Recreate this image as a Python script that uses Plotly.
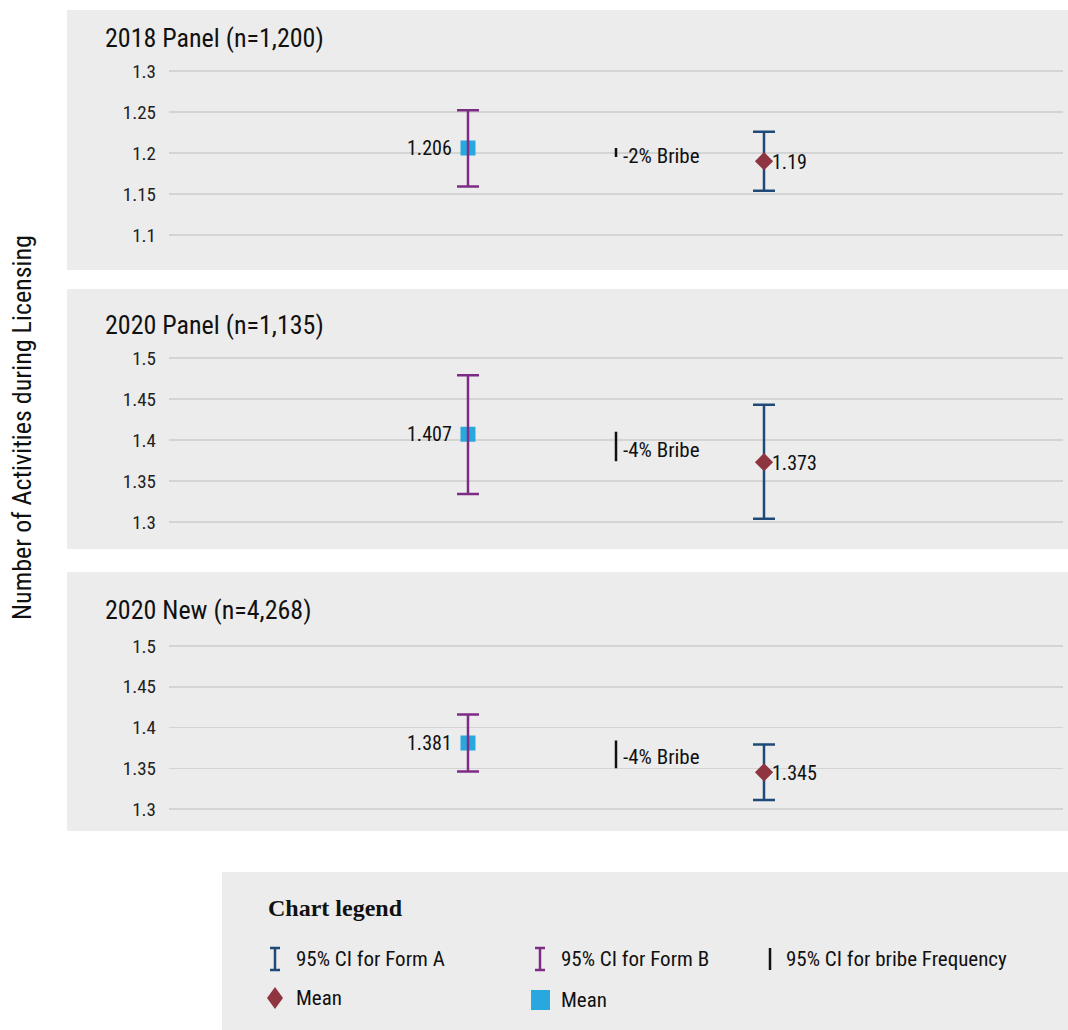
import plotly.graph_objects as go

# ---------------- data ----------------
panels = ["2018 Panel (n=1,200)", "2020 Panel (n=1,135)", "2020 New (n=4,268)"]
categories = ["Form B", "Bribe", "Form A"]
formb_mean = [1.206, 1.407, 1.381]
formb_hi = [1.252, 1.479, 1.416]
formb_lo = [1.159, 1.334, 1.346]
forma_mean = [1.19, 1.373, 1.345]
forma_hi = [1.226, 1.443, 1.379]
forma_lo = [1.154, 1.304, 1.311]
bribe_hi = [1.206, 1.410, 1.384]
bribe_lo = [1.195, 1.374, 1.350]
bribe_labels = ["-2% Bribe", "-4% Bribe", "-4% Bribe"]
y_ticks = [[1.1, 1.15, 1.2, 1.25, 1.3],
           [1.3, 1.35, 1.4, 1.45, 1.5],
           [1.3, 1.35, 1.4, 1.45, 1.5]]
y_tick_text = [["1.1", "1.15", "1.2", "1.25", "1.3"],
               ["1.3", "1.35", "1.4", "1.45", "1.5"],
               ["1.3", "1.35", "1.4", "1.45", "1.5"]]
y_title = "Number of Activities during Licensing"
legend_title = "Chart legend"
legend_items = ["95% CI for Form A", "95% CI for Form B", "95% CI for bribe Frequency", "Mean", "Mean"]

# ---------------- style ----------------
W, H = 1068, 1030
FONT = "Liberation Sans Narrow, Roboto Condensed, Roboto, sans-serif"
NAVY = "#1f4a78"
PURPLE = "#7d2c84"
BLUE = "#29a8e0"
RED = "#8e3540"
PANEL_BG = "#ececec"
GRID = "#d4d4d4"
TXT = "#111"


def px(x):
    return x / W


def py(y):
    return 1 - y / H


# panel geometry (pixels)
panel_rects = [(10, 270), (289, 549), (572, 831)]
plot_tops = [54.6, 341.6, 629.7]
plot_bots = [251.4, 538.4, 825.3]
y_ranges = [[1.08, 1.32], [1.28, 1.52], [1.28, 1.52]]
title_y = [38, 325, 610]

fig = go.Figure()
shapes = []
annotations = []

for i in range(3):
    sfx = "" if i == 0 else str(i + 1)
    xa, ya = "x" + sfx, "y" + sfx
    # Form B mean square (under its error bar)
    fig.add_trace(go.Scatter(
        x=[categories[0]], y=[formb_mean[i]], xaxis=xa, yaxis=ya, mode="markers",
        marker=dict(symbol="square", size=15, color=BLUE), hoverinfo="skip", showlegend=False))
    annotations.append(dict(x=0, y=formb_mean[i], xref=xa, yref=ya,
                            text=f"{formb_mean[i]:g}", showarrow=False,
                            xanchor="right", yanchor="middle", xshift=-14,
                            font=dict(family=FONT, size=20, color=TXT)))
    # Form B CI
    fig.add_trace(go.Scatter(
        x=[categories[0]], y=[formb_mean[i]], xaxis=xa, yaxis=ya, mode="markers",
        marker=dict(size=1, color="rgba(0,0,0,0)"),
        error_y=dict(type="data", symmetric=False,
                     array=[formb_hi[i] - formb_mean[i]],
                     arrayminus=[formb_mean[i] - formb_lo[i]],
                     color=PURPLE, thickness=2.5, width=11),
        hoverinfo="skip", showlegend=False))
    # Form A CI
    fig.add_trace(go.Scatter(
        x=[categories[2]], y=[forma_mean[i]], xaxis=xa, yaxis=ya, mode="markers",
        marker=dict(size=1, color="rgba(0,0,0,0)"),
        error_y=dict(type="data", symmetric=False,
                     array=[forma_hi[i] - forma_mean[i]],
                     arrayminus=[forma_mean[i] - forma_lo[i]],
                     color=NAVY, thickness=2.5, width=11),
        hoverinfo="skip", showlegend=False))
    # Form A mean diamond
    fig.add_trace(go.Scatter(
        x=[categories[2]], y=[forma_mean[i]], xaxis=xa, yaxis=ya, mode="markers",
        marker=dict(symbol="diamond", size=14, color=RED), hoverinfo="skip", showlegend=False))
    annotations.append(dict(x=2, y=forma_mean[i], xref=xa, yref=ya,
                            text=f"{forma_mean[i]:g}", showarrow=False,
                            xanchor="left", yanchor="middle", xshift=6, yshift=-1,
                            font=dict(family=FONT, size=20, color=TXT)))
    # Bribe CI
    mid = (bribe_hi[i] + bribe_lo[i]) / 2
    fig.add_trace(go.Scatter(
        x=[categories[1]], y=[mid], xaxis=xa, yaxis=ya, mode="markers",
        marker=dict(size=1, color="rgba(0,0,0,0)"),
        error_y=dict(type="data", symmetric=False,
                     array=[bribe_hi[i] - mid], arrayminus=[mid - bribe_lo[i]],
                     color=TXT, thickness=2.5, width=0),
        hoverinfo="skip", showlegend=False))
    annotations.append(dict(x=1, y=mid, xref=xa, yref=ya, text=bribe_labels[i],
                            showarrow=False, xanchor="left", yanchor="middle",
                            xshift=5, yshift=-3,
                            font=dict(family=FONT, size=21, color=TXT)))

    # axes
    dom_y = [py(plot_bots[i]), py(plot_tops[i])]
    fig.layout["xaxis" + sfx] = dict(
        domain=[px(169), px(1063)], type="category", categoryorder="array",
        categoryarray=categories, range=[-2.02, 4.02], showticklabels=False,
        showgrid=False, zeroline=False, showline=False, fixedrange=True,
        anchor=ya)
    fig.layout["yaxis" + sfx] = dict(
        domain=dom_y, range=y_ranges[i], tickvals=y_ticks[i], ticktext=y_tick_text[i],
        showgrid=True, gridcolor=GRID, gridwidth=1.5, zeroline=False, showline=False,
        ticks="", ticklabelstandoff=12, anchor=xa,
        tickfont=dict(family=FONT, size=19, color="#222"))

    # panel background
    y0, y1 = panel_rects[i]
    shapes.append(dict(type="rect", xref="paper", yref="paper", x0=px(67), x1=1,
                       y0=py(y1), y1=py(y0), fillcolor=PANEL_BG, line=dict(width=0),
                       layer="below"))
    annotations.append(dict(x=px(103), y=py(title_y[i]), xref="paper", yref="paper",
                            text=panels[i], showarrow=False, xanchor="left",
                            yanchor="middle",
                            font=dict(family=FONT, size=26, color=TXT)))

# y-axis title
annotations.append(dict(x=px(22), y=py(428), xref="paper", yref="paper", text=y_title,
                        textangle=-90, showarrow=False, xanchor="center", yanchor="middle",
                        font=dict(family=FONT, size=26, color=TXT)))

# ---------------- legend (drawn manually) ----------------
shapes.append(dict(type="rect", xref="paper", yref="paper", x0=px(222), x1=1,
                   y0=0, y1=py(872), fillcolor=PANEL_BG, line=dict(width=0), layer="below"))
annotations.append(dict(x=px(266), y=py(908), xref="paper", yref="paper",
                        text="<b>" + legend_title + "</b>", showarrow=False,
                        xanchor="left", yanchor="middle",
                        font=dict(family="Liberation Serif, DejaVu Serif, serif", size=24,
                                  color=TXT)))


def ibeam(cx, cy, color, cap=True):
    out = [dict(type="line", xref="paper", yref="paper", x0=px(cx), x1=px(cx),
                y0=py(cy + 11), y1=py(cy - 11), line=dict(color=color, width=2.5))]
    if cap:
        for yy in (cy - 11, cy + 11):
            out.append(dict(type="line", xref="paper", yref="paper", x0=px(cx - 5),
                            x1=px(cx + 5), y0=py(yy), y1=py(yy),
                            line=dict(color=color, width=2.5)))
    return out


shapes += ibeam(275, 959, NAVY)
shapes += ibeam(540, 959, PURPLE)
shapes += ibeam(770, 959, TXT, cap=False)
# diamond icon
dx, dy = 275, 998
shapes.append(dict(type="path", xref="paper", yref="paper",
                   path=f"M {px(dx)},{py(dy - 11)} L {px(dx + 8)},{py(dy)} L {px(dx)},{py(dy + 11)} L {px(dx - 8)},{py(dy)} Z",
                   fillcolor=RED, line=dict(width=0)))
# square icon
shapes.append(dict(type="rect", xref="paper", yref="paper", x0=px(531), x1=px(550),
                   y0=py(1010), y1=py(990), fillcolor=BLUE, line=dict(width=0)))

leg_pos = [(294, 959), (559, 959), (784, 959), (294, 998), (559, 1000)]
for (lx, ly), t in zip(leg_pos, legend_items):
    annotations.append(dict(x=px(lx), y=py(ly), xref="paper", yref="paper", text=t,
                            showarrow=False, xanchor="left", yanchor="middle",
                            font=dict(family=FONT, size=21, color=TXT)))

fig.update_layout(
    width=W, height=H, margin=dict(l=0, r=0, t=0, b=0),
    paper_bgcolor="white", plot_bgcolor="rgba(0,0,0,0)",
    shapes=shapes, annotations=annotations, showlegend=False,
    font=dict(family=FONT, color=TXT), hovermode=False,
)

fig.write_html("out.html", config={"displayModeBar": False, "staticPlot": True},
               post_script="document.body.style.margin='0';document.body.style.overflow='hidden';")
